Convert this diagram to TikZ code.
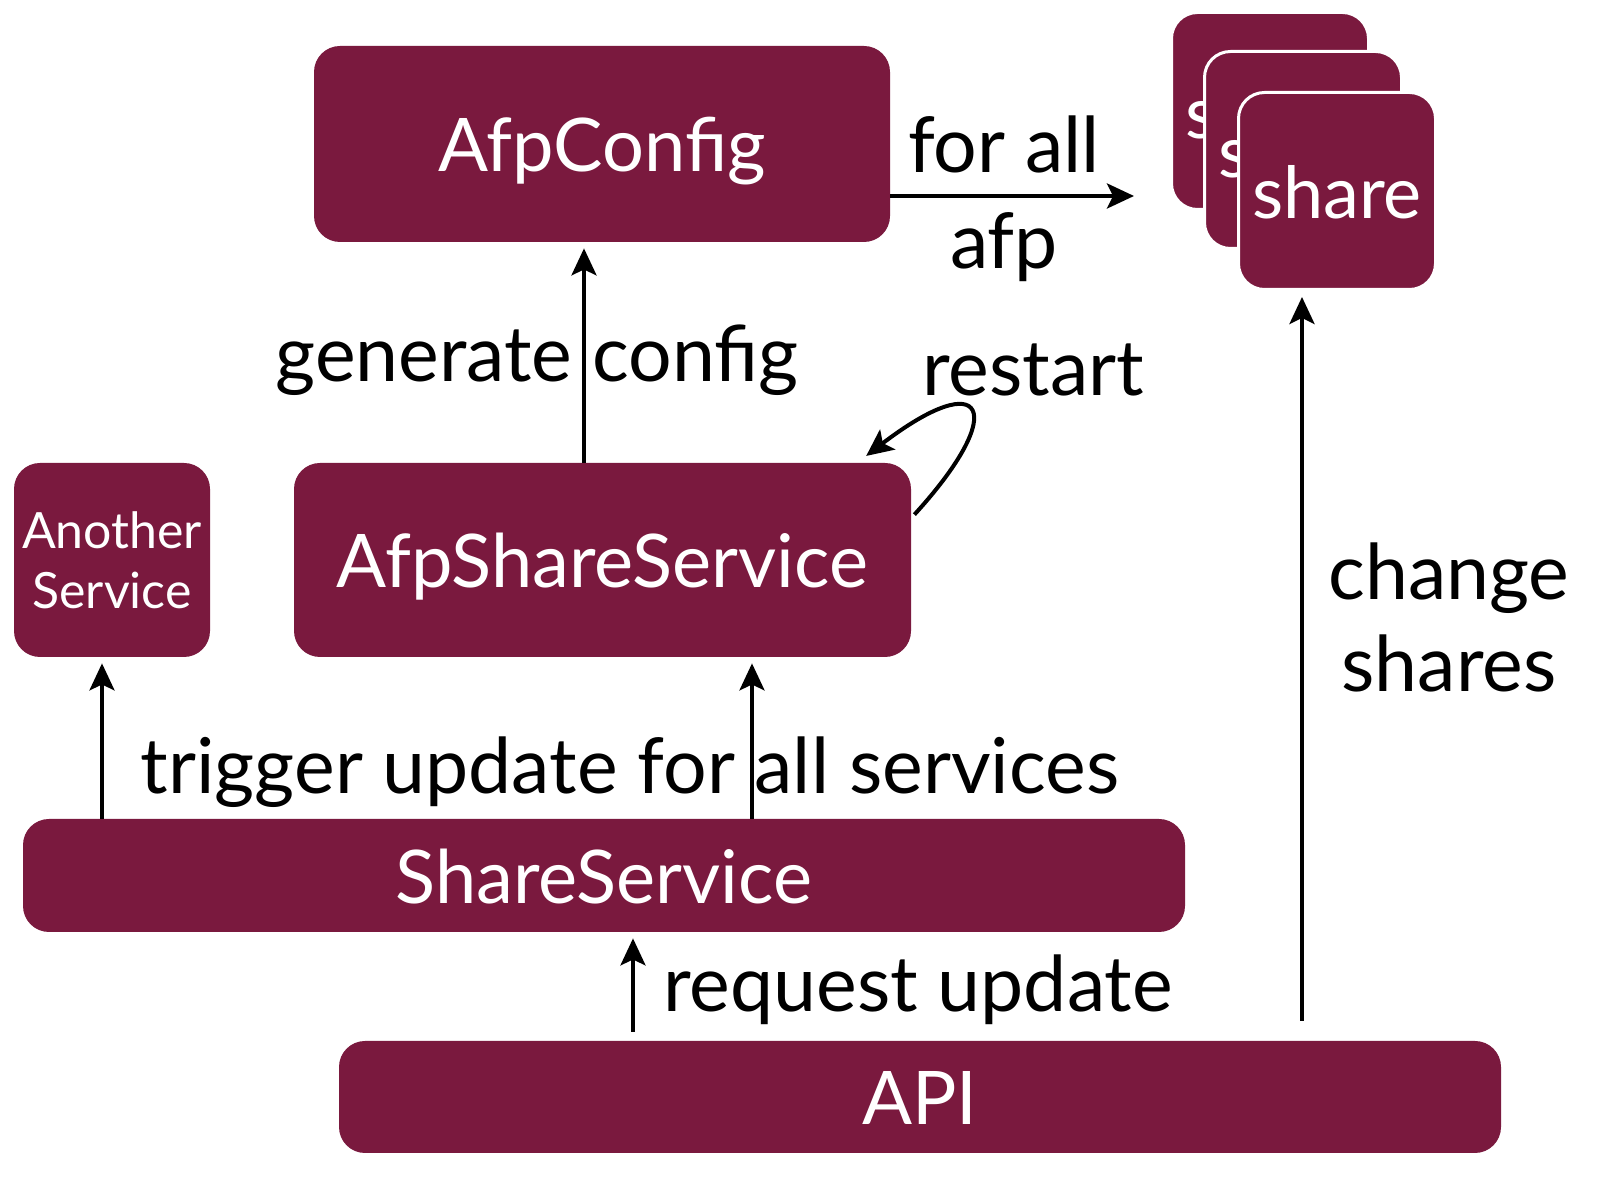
\documentclass[tikz,border=0pt]{standalone}
\usepackage{fontspec}
\setmainfont{Lato}
\usetikzlibrary{arrows.meta,positioning}
\definecolor{wine}{RGB}{122,25,62}
\tikzset{
    box/.style = {
        rectangle,
        rounded corners = 13pt,
        fill = wine,
        text = white,
        inner sep = 0pt,
        align = center,
        font = \fontsize{37}{40}\selectfont
    },
    onerow/.style = {
        text height = 28pt,
        text depth = 0pt
    },
    sharebox/.style = {
        box,
        onerow,
        draw = white,
        line width = 1.5pt,
        minimum width = 98.5pt,
        minimum height = 98.5pt,
        font = \fontsize{36}{40}\selectfont
    },
    label/.style = {
        inner sep = 0pt,
        align = center,
        font = \fontsize{38.5}{46}\selectfont
    },
    flow/.style = {
        -{Stealth[length=13.5pt,width=12.5pt,inset=3pt]},
        line width = 2pt,
        shorten > = 3pt
    }
}
\begin{document}
\begin{tikzpicture}[x=0.5pt,y=-0.5pt]
    \useasboundingbox (0,0) rectangle (1614,1202);
    % boxes
    \node (afpconfig) at (602,144) [box, onerow, minimum width=288pt, minimum height=98pt] {AfpConfig};
    \node (afpsvc) at (602.5,560) [box, onerow, minimum width=308.5pt, minimum height=97pt] {AfpShareService};
    \node (another) at (112,560) [box, minimum width=98pt, minimum height=97pt,
        font=\fontsize{25}{30}\selectfont] {Another\\Service};
    \node (sharesvc) at (604,875.5) [box, onerow, minimum width=581pt, minimum height=56.5pt] {ShareService};
    \node (api) at (920,1097) [box, onerow, minimum width=581pt, minimum height=56pt] {API};
    % stack of shares
    \node (share3) at (1270,111) [sharebox] {share};
    \node (share2) at (1303,150) [sharebox] {share};
    \node (share1) at (1337,191) [sharebox] {share};
    % connectors
    \draw[flow] (afpconfig.east |- 0,196) -- (1140,196) coordinate (forall);
    \node (forlbl) at (1004,144) [label] {for all};
    \node (afplbl) at (1004,247) [label] {afp};
    \draw[flow] (afpsvc.north -| 584,0) -- (afpconfig.south -| 584,0);
    \node (genlbl) at (537,360) [label] {generate config};
    \coordinate (loopa) at ([shift={(3,52)}]afpsvc.north east);
    \coordinate (loopb) at ([shift={(-50,-3)}]afpsvc.north east);
    \draw[flow] (loopa) .. controls (1010,410) and (985,365) .. (loopb);
    \node (restartlbl) at (1033,370) [label] {restart};
    \draw[flow] (sharesvc.north -| 102,0) -- (another.south -| 102,0);
    \draw[flow] (sharesvc.north -| 752,0) -- (afpsvc.south -| 752,0);
    \node (triglbl) at (630,772) [label] {trigger update for all services};
    \draw[flow] (api.north -| 633,0) ++(0,-9) -- (sharesvc.south -| 633,0);
    \node (reqlbl) at (918,990) [label] {request update};
    \draw[flow] (api.north -| 1302,0) ++(0,-20) -- (share1.south -| 1302,0);
    \node (chglbl) at (1449,617) [label] {change\\shares};
\end{tikzpicture}
\end{document}
